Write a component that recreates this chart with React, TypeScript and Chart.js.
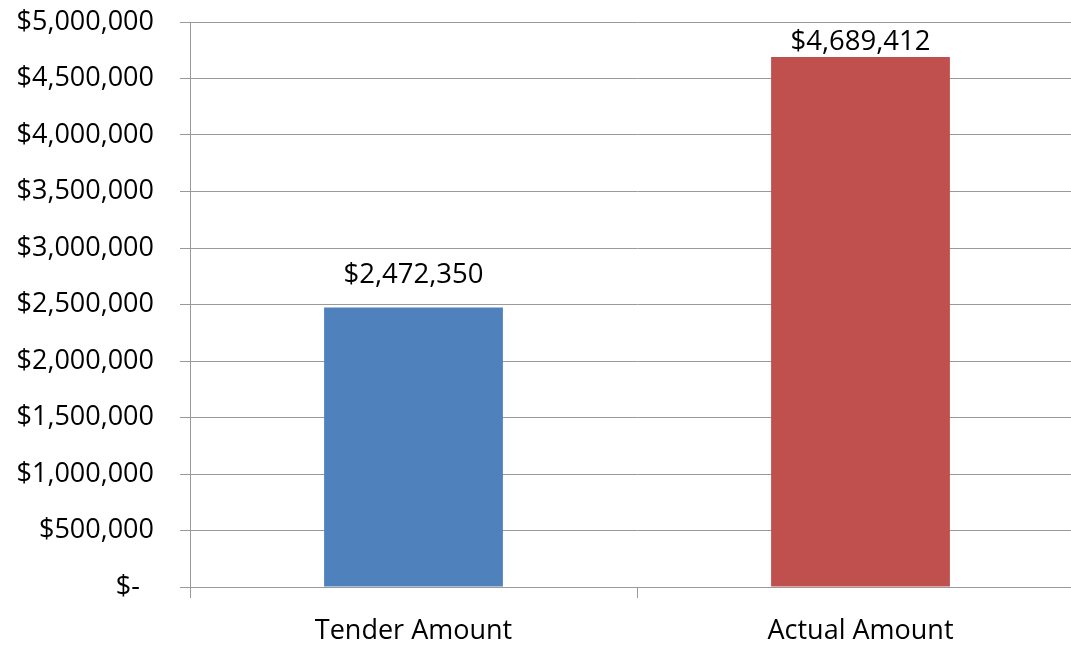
import React, { useEffect, useRef } from "react";
import { Chart, registerables } from "chart.js";

Chart.register(...registerables);

const categories = ["Tender Amount", "Actual Amount"];
const amounts = [2472350, 4689412];
const barColors = ["#4F81BD", "#C0504D"];
const yTickLabels = [
  "$-",
  "$500,000",
  "$1,000,000",
  "$1,500,000",
  "$2,000,000",
  "$2,500,000",
  "$3,000,000",
  "$3,500,000",
  "$4,000,000",
  "$4,500,000",
  "$5,000,000",
];
const dataLabels = ["$2,472,350", "$4,689,412"];

const FONT = "'Open Sans', 'Noto Sans', sans-serif";
const GRID = "#9a9a9a";

const valueLabelPlugin = {
  id: "valueLabels",
  afterDatasetsDraw(chart: any) {
    const { ctx, chartArea } = chart;
    const meta = chart.getDatasetMeta(0);
    ctx.save();
    ctx.font = `27.5px ${FONT}`;
    ctx.fillStyle = "#000";
    ctx.textAlign = "center";
    ctx.textBaseline = "middle";
    meta.data.forEach((bar: any, i: number) => {
      const y = Math.max(bar.y - 32, chartArea.top + 20);
      ctx.fillText(dataLabels[i], bar.x, y);
    });
    ctx.restore();
  },
};

export default function App() {
  const ref = useRef<HTMLCanvasElement>(null);

  useEffect(() => {
    if (!ref.current) return;
    const chart = new Chart(ref.current, {
      type: "bar",
      data: {
        labels: categories,
        datasets: [
          {
            data: amounts,
            backgroundColor: barColors,
            borderWidth: 0,
            barPercentage: 0.4,
            categoryPercentage: 1,
          },
        ],
      },
      options: {
        responsive: false,
        animation: false,
        layout: { padding: { top: 22, right: 16, left: 0, bottom: 0 } },
        plugins: {
          legend: { display: false },
          tooltip: { enabled: false },
        },
        scales: {
          x: {
            grid: {
              display: true,
              drawOnChartArea: false,
              drawTicks: true,
              tickLength: 11,
              color: GRID,
              offset: true,
            },
            border: { display: true, color: GRID },
            ticks: {
              color: "#000",
              font: { family: FONT, size: 27 },
              padding: 17,
            },
            afterFit: (s: any) => {
              s.height = 59;
            },
          },
          y: {
            min: 0,
            max: 5000000,
            grid: {
              color: GRID,
              drawTicks: true,
              tickLength: 10,
            },
            border: { display: true, color: GRID },
            ticks: {
              stepSize: 500000,
              color: "#000",
              font: { family: FONT, size: 27 },
              padding: 26,
              callback: (_v: any, index: number) => {
                const t = yTickLabels[index];
                return index === 0 ? t + "\u00a0\u00a0" : t;
              },
            },
            afterFit: (s: any) => {
              s.width = 190;
              s.paddingTop = 0;
              s.paddingBottom = 0;
            },
          },
        },
      },
      plugins: [valueLabelPlugin],
    });
    return () => chart.destroy();
  }, []);

  return (
    <div
      style={{
        position: "fixed",
        left: 0,
        top: 0,
        width: 1071,
        height: 646,
        overflow: "hidden",
        background: "#fff",
      }}
    >
      <canvas ref={ref} width={1100} height={646} style={{ display: "block" }} />
    </div>
  );
}
